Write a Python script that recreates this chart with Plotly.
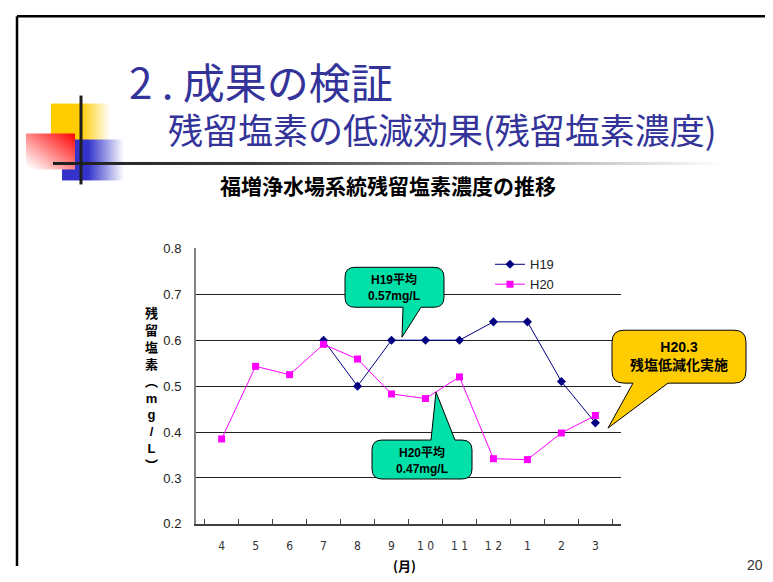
import base64
import plotly.graph_objects as go

W, H = 773, 582          # browser window
OX = 8                   # page body margin offset (horizontal)
FW, FH = W - 2 * OX, H - 2 * 8  # figure size that fits without scrolling
# vertical mapping of the photographed page: shown_y = KY * figure_y + CY
KY, CY = 0.975, 13.3

# ---------------- data ----------------
months = ['4', '5', '6', '7', '8', '9', '10', '11', '12', '1', '2', '3']
month_labels = ['4', '5', '6', '7', '8', '9', '1 0', '1 1', '1 2', '1', '2', '3']
h19 = [None, None, None, 0.60, 0.50, 0.60, 0.60, 0.60, 0.64, 0.64, 0.51, 0.42]
h20 = [0.385, 0.543, 0.525, 0.591, 0.559, 0.483, 0.473, 0.520, 0.342, 0.340, 0.398, 0.436]
y_tick_vals = [0.2, 0.3, 0.4, 0.5, 0.6, 0.7, 0.8]

title_main = "2 . 成果の検証"
title_sub = "残留塩素の低減効果(残留塩素濃度)"
chart_title = "福増浄水場系統残留塩素濃度の推移"
y_label_chars = ['残', '留', '塩', '素', '︵', 'm', 'g', '/', 'L', '︶']
x_label = "(月)"
page_no = "20"
callout_h19 = "H19平均<br>0.57mg/L"
callout_h20 = "H20平均<br>0.47mg/L"
callout_h203 = "H20.3<br>残塩低減化実施"


def px(x):
    return (x - OX) / FW


def py(y):
    return 1 - ((y - CY) / KY) / FH


# plot area in window pixels
PL, PR, PT, PB = 196, 621, 247, 523

fig = go.Figure()
fig.add_trace(go.Scatter(
    x=months, y=h19, name='H19', mode='lines+markers',
    line=dict(color='#000080', width=1),
    marker=dict(symbol='diamond', size=7, color='#000080'),
))
fig.add_trace(go.Scatter(
    x=months, y=h20, name='H20', mode='lines+markers',
    line=dict(color='#FF00FF', width=1),
    marker=dict(symbol='square', size=7, color='#FF00FF'),
))

# ---------------- decoration (svg) ----------------
svg = f'''<svg xmlns="http://www.w3.org/2000/svg" width="{FW}" height="{FH}" viewBox="{OX} {CY} {FW} {FH * KY:.2f}" preserveAspectRatio="none">
<defs>
<linearGradient id="gy" x1="0" y1="0" x2="1" y2="0">
<stop offset="0.5" stop-color="#FFCC00"/><stop offset="1" stop-color="#FFFFFF"/></linearGradient>
<linearGradient id="gb" x1="0" y1="0" x2="1" y2="0">
<stop offset="0.42" stop-color="#3333CC"/><stop offset="1" stop-color="#FFFFFF"/></linearGradient>
<linearGradient id="gr" x1="1" y1="0" x2="0" y2="1">
<stop offset="0" stop-color="#FF0000"/><stop offset="0.95" stop-color="#FFFFFF"/></linearGradient>
<linearGradient id="gl" x1="0" y1="0" x2="1" y2="0">
<stop offset="0" stop-color="#1E1E1E"/><stop offset="0.3" stop-color="#3A3A3A"/><stop offset="1" stop-color="#FFFFFF"/></linearGradient>
</defs>
<rect x="51" y="102" width="59" height="37" fill="url(#gy)"/>
<rect x="62" y="138" width="62" height="41" fill="url(#gb)"/>
<rect x="26" y="132" width="49" height="36" fill="url(#gr)"/>
<rect x="53" y="160.5" width="670" height="3" fill="url(#gl)"/>
<rect x="79.5" y="94" width="3" height="89" fill="#1E1E1E"/>
</svg>'''
src = "data:image/svg+xml;base64," + base64.b64encode(svg.encode('utf-8')).decode('ascii')

images = [dict(source=src, xref='paper', yref='paper', x=0, y=1, sizex=1, sizey=1,
               xanchor='left', yanchor='top', sizing='stretch', layer='below')]


# ---------------- callout shapes ----------------
def callout_path(x0, y0, x1, y1, r, side, b0, b1, tip):
    def P(x, y):
        return f"{px(x):.5f},{py(y):.5f}"
    s = f"M {P(x0 + r, y0)} "
    if side == 'top':
        s += f"L {P(b0, y0)} L {P(*tip)} L {P(b1, y0)} "
    s += f"L {P(x1 - r, y0)} Q {P(x1, y0)} {P(x1, y0 + r)} "
    s += f"L {P(x1, y1 - r)} Q {P(x1, y1)} {P(x1 - r, y1)} "
    if side == 'bottom':
        s += f"L {P(b1, y1)} L {P(*tip)} L {P(b0, y1)} "
    s += f"L {P(x0 + r, y1)} Q {P(x0, y1)} {P(x0, y1 - r)} "
    s += f"L {P(x0, y0 + r)} Q {P(x0, y0)} {P(x0 + r, y0)} Z"
    return s


TEAL = '#00E0A8'
GOLD = '#FFCC00'
top_frame = min(py(11), 1 - 1.3 / FH)
shapes = [
    # slide frame
    dict(type='line', xref='paper', yref='paper', x0=px(17), x1=1.0, y0=top_frame, y1=top_frame,
         line=dict(color='black', width=2.5)),
    dict(type='line', xref='paper', yref='paper', x0=px(17), x1=px(17), y0=top_frame, y1=0,
         line=dict(color='black', width=2.5)),
    dict(type='path', xref='paper', yref='paper', layer='above',
         path=callout_path(345, 266, 444, 306, 10, 'bottom', 403, 421, (402, 336)),
         fillcolor=TEAL, line=dict(color='black', width=1)),
    dict(type='path', xref='paper', yref='paper', layer='above',
         path=callout_path(372, 439, 472, 478, 10, 'top', 431, 455, (436, 391)),
         fillcolor=TEAL, line=dict(color='black', width=1)),
    dict(type='path', xref='paper', yref='paper', layer='above',
         path=callout_path(612, 329, 746, 382, 12, 'bottom', 633, 668, (608, 427)),
         fillcolor=GOLD, line=dict(color='black', width=1)),
]

# ---------------- text ----------------
CJK = "Noto Sans CJK JP"
LAT = "Liberation Sans, Arial, sans-serif"
ylab_text = "<br>".join(f"<b>{c}</b>" for c in y_label_chars)
annotations = [
    dict(text=title_main, x=px(127), y=py(79), xanchor='left', yanchor='middle',
         font=dict(family=CJK, size=42, color='#333399')),
    dict(text=title_sub, x=px(166), y=py(127), xanchor='left', yanchor='middle',
         font=dict(family=CJK, size=35, color='#333399')),
    dict(text=f"<b>{chart_title}</b>", x=px(388), y=py(184), xanchor='center', yanchor='middle',
         font=dict(family=CJK, size=21, color='black')),
    dict(text=f"<b>{x_label}</b>", x=px(404), y=py(565), xanchor='center', yanchor='middle',
         font=dict(family=CJK, size=13, color='black')),
    dict(text=page_no, x=px(755), y=py(564), xanchor='center', yanchor='middle',
         font=dict(family=LAT, size=14, color='#333333')),
    dict(text=f"<b>{callout_h19}</b>", x=px(394), y=py(286), xanchor='center', yanchor='middle',
         font=dict(family='Liberation Sans, ' + CJK, size=12, color='black')),
    dict(text=f"<b>{callout_h20}</b>", x=px(422), y=py(459), xanchor='center', yanchor='middle',
         font=dict(family='Liberation Sans, ' + CJK, size=12, color='black')),
    dict(text=f"<b>{callout_h203}</b>", x=px(679), y=py(355), xanchor='center', yanchor='middle',
         font=dict(family='Liberation Sans, ' + CJK, size=14, color='black')),
    dict(text=ylab_text, x=px(151), y=py(388), xanchor='center', yanchor='middle',
         font=dict(family='Liberation Sans, ' + CJK, size=13, color='black')),
]
for a in annotations:
    a.update(xref='paper', yref='paper', showarrow=False)

fig.update_layout(
    width=FW, height=FH,
    margin=dict(l=0, r=0, t=0, b=0),
    paper_bgcolor='white', plot_bgcolor='rgba(0,0,0,0)',
    showlegend=True,
    legend=dict(x=px(490), y=py(248), xanchor='left', yanchor='top',
                font=dict(family=LAT, size=13, color='#222222'),
                bgcolor='rgba(0,0,0,0)', itemwidth=30, tracegroupgap=0),
    xaxis=dict(domain=[px(PL), px(PR)], type='category', categoryorder='array',
               categoryarray=months, tickvals=months, ticktext=month_labels,
               ticks='inside', tickson='boundaries', ticklen=5, tickcolor='#404040',
               showline=True, linecolor='#404040', linewidth=2, showgrid=False,
               ticklabelstandoff=10,
               tickfont=dict(family='Liberation Sans Narrow, DejaVu Sans Condensed, sans-serif',
                             size=12, color='#333333')),
    yaxis=dict(domain=[py(PB), py(PT)], range=[0.2, 0.8], tickvals=y_tick_vals,
               tickformat='.1f', showgrid=True, gridcolor='#222222', gridwidth=1,
               showline=True, linecolor='#808080', linewidth=2, ticks='',
               zeroline=False, ticklabelstandoff=10,
               tickfont=dict(family=LAT, size=13, color='#222222')),
    shapes=shapes, annotations=annotations, images=images,
)

fig.write_html("out.html")
